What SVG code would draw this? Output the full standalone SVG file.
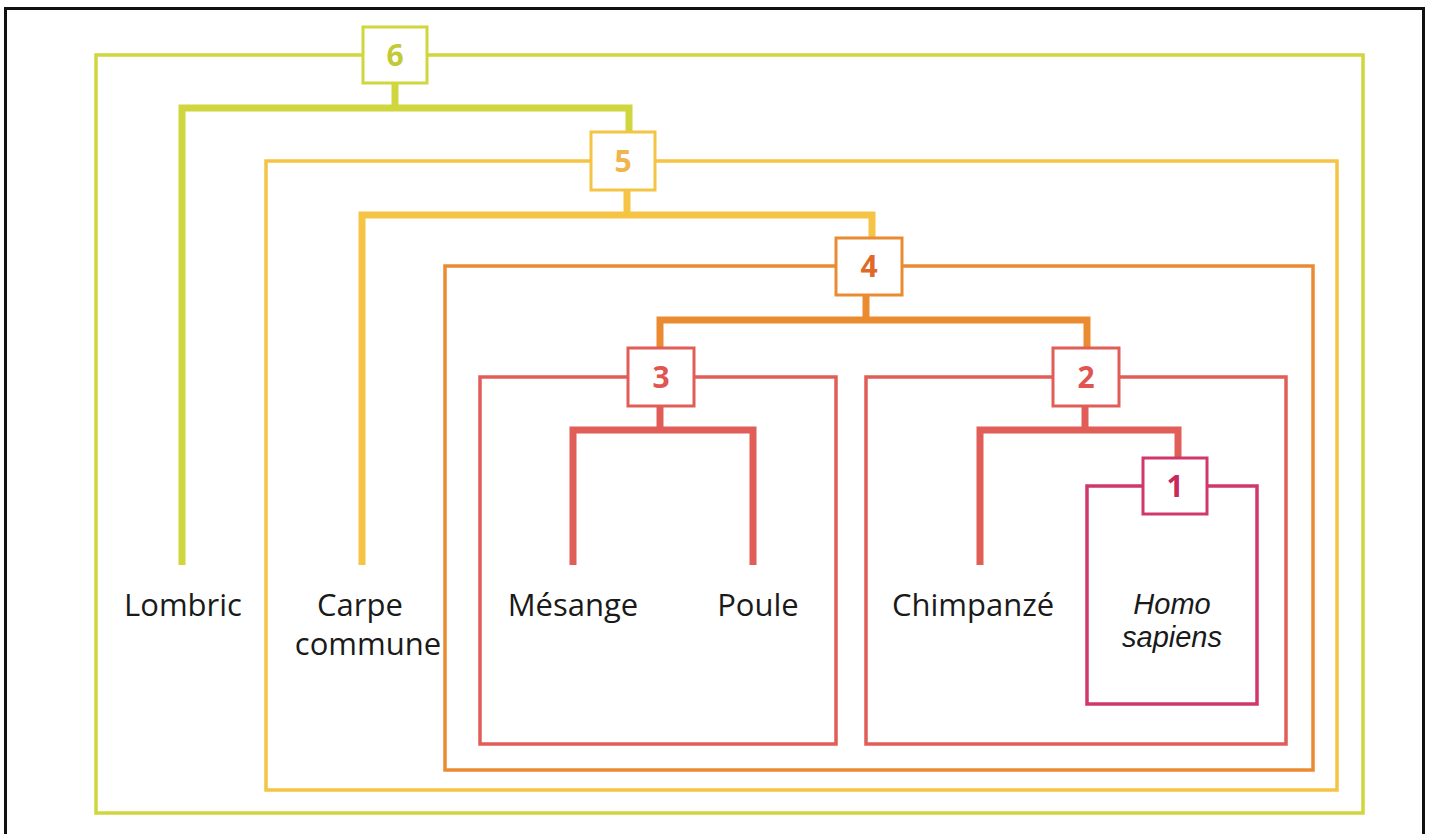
<svg xmlns="http://www.w3.org/2000/svg" width="1431" height="834" viewBox="0 0 1431 834">
  <style>
    .frame { fill: none; stroke: #111; stroke-width: 3; }
    .clade { fill: none; stroke-width: 3.5; }
    .branch { fill: none; stroke-width: 7; stroke-linejoin: miter; stroke-linecap: butt; }
    .box { fill: #fff; stroke-width: 3; }
    .num { font-family: "Open Sans", "Noto Sans", sans-serif; font-weight: 700; font-size: 30px; text-anchor: middle; }
    .label { font-family: "Open Sans", "Noto Sans", sans-serif; font-size: 31px; fill: #1a1a1a; text-anchor: middle; }
    .it { font-family: "Liberation Sans", Arial, sans-serif; font-style: italic; font-size: 29px; }
    .c6 { stroke: #cfd63e; }
    .c5 { stroke: #f5c445; }
    .c4 { stroke: #ea8b32; }
    .c3 { stroke: #e15e58; }
    .c1 { stroke: #d0386a; }
  </style>

  <rect class="frame" x="5.5" y="8.5" width="1418" height="850"/>

  <!-- nested clade boundaries -->
  <g id="clades">
    <rect class="clade c6" x="96" y="55" width="1267" height="758"/>
    <rect class="clade c5" x="266" y="161" width="1071" height="629"/>
    <rect class="clade c4" x="445" y="266" width="868" height="504"/>
    <rect class="clade c3" x="480" y="377" width="356" height="367"/>
    <rect class="clade c3" x="866" y="377" width="420" height="367"/>
    <rect class="clade c1" x="1087" y="486" width="170" height="218"/>
  </g>

  <!-- tree branches -->
  <g id="connectors">
    <polyline class="branch c6" points="182,565 182,108 629,108 629,133"/>
    <line class="branch c6" x1="395" y1="83" x2="395" y2="108"/>
    <polyline class="branch c5" points="362,565 362,215 872,215 872,238"/>
    <line class="branch c5" x1="627" y1="190" x2="627" y2="215"/>
    <polyline class="branch c4" points="660,348 660,320 1087,320 1087,348"/>
    <line class="branch c4" x1="866" y1="295" x2="866" y2="320"/>
    <polyline class="branch c3" points="573,565 573,430 753,430 753,565"/>
    <line class="branch c3" x1="660" y1="406" x2="660" y2="430"/>
    <polyline class="branch c3" points="980,565 980,430 1178,430 1178,458"/>
    <line class="branch c3" x1="1085" y1="406" x2="1085" y2="430"/>
  </g>

  <g id="node-6">
    <rect class="box c6" x="363" y="27" width="64" height="56"/>
    <text class="num" x="395" y="66" fill="#c3ca35">6</text>
  </g>
  <g id="node-5">
    <rect class="box c5" x="591" y="132" width="64" height="58"/>
    <text class="num" x="623" y="172" fill="#f0b54c">5</text>
  </g>
  <g id="node-4">
    <rect class="box c4" x="836" y="238" width="66" height="57"/>
    <text class="num" x="869" y="277" fill="#e0692a">4</text>
  </g>
  <g id="node-3">
    <rect class="box c3" x="628" y="348" width="66" height="58"/>
    <text class="num" x="661" y="388" fill="#e05550">3</text>
  </g>
  <g id="node-2">
    <rect class="box c3" x="1053" y="348" width="66" height="58"/>
    <text class="num" x="1086" y="388" fill="#e05550">2</text>
  </g>
  <g id="node-1">
    <rect class="box c1" x="1143" y="458" width="64" height="56"/>
    <text class="num" x="1175" y="497" fill="#c8285a">1</text>
  </g>

  <g id="leaf-lombric"><text class="label" x="183" y="616">Lombric</text></g>
  <g id="leaf-carpe">
    <text class="label" x="360" y="616">Carpe</text>
    <text class="label" x="368" y="655">commune</text>
  </g>
  <g id="leaf-mesange"><text class="label" x="573" y="616">Mésange</text></g>
  <g id="leaf-poule"><text class="label" x="758" y="616">Poule</text></g>
  <g id="leaf-chimpanze"><text class="label" x="973" y="616">Chimpanzé</text></g>
  <g id="leaf-homo">
    <text class="label it" x="1172" y="614">Homo</text>
    <text class="label it" x="1172" y="647">sapiens</text>
  </g>
</svg>
